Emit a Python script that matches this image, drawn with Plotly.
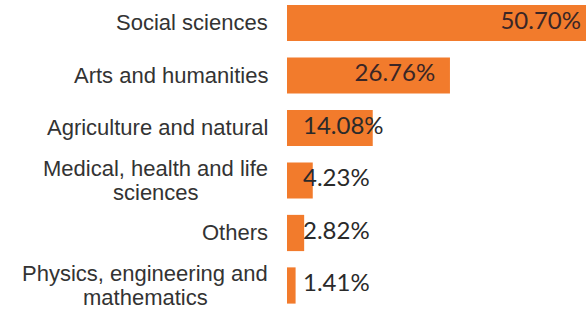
import plotly.graph_objects as go

categories = [
    "Social sciences",
    "Arts and humanities",
    "Agriculture and natural",
    "Medical, health and life<br>sciences",
    "Others",
    "Physics, engineering and<br>mathematics",
]
values = [50.70, 26.76, 14.08, 4.23, 2.82, 1.41]
value_labels = ["50.70%", "26.76%", "14.08%", "4.23%", "2.82%", "1.41%"]

pos = list(range(len(categories)))
big = [v > 20 for v in values]

fig = go.Figure()
fig.add_trace(go.Bar(
    x=values,
    y=pos,
    orientation="h",
    width=0.69,
    marker=dict(color="#F27B2C", line=dict(width=0)),
    hoverinfo="skip",
))

# labels inside the end of the long bars
fig.add_trace(go.Scatter(
    x=[v for v, b in zip(values, big) if b],
    y=[p for p, b in zip(pos, big) if b],
    text=[t for t, b in zip(value_labels, big) if b],
    mode="markers+text",
    textposition="middle left",
    marker=dict(size=22, color="rgba(0,0,0,0)"),
    textfont=dict(family="Lato", size=24, color="#3a2626"),
    hoverinfo="skip",
))

# labels near the base of the short bars
fig.add_trace(go.Scatter(
    x=[0 for b in big if not b],
    y=[p for p, b in zip(pos, big) if not b],
    text=[t for t, b in zip(value_labels, big) if not b],
    mode="markers+text",
    textposition="middle right",
    marker=dict(size=24, color="rgba(0,0,0,0)"),
    textfont=dict(family="Lato", size=24, color="#2a2a2a"),
    cliponaxis=False,
    hoverinfo="skip",
))

# Arial / Liberation Sans advance widths (1/1000 em) used to centre the
# second line of a two-line label under its first line
ARIAL_W = {
    "M": 833, "P": 667, "a": 556, "c": 500, "d": 556, "e": 556, "f": 278,
    "g": 556, "h": 556, "i": 222, "l": 222, "n": 556, "r": 333, "s": 500,
    "t": 278, "y": 500, ",": 278, " ": 278,
}
FONT_SIZE = 22
FONT = dict(family="Liberation Sans", size=FONT_SIZE, color="#333333")
HALF_GAP = 12
LABEL_SHIFT = -17


def text_width(s):
    return sum(ARIAL_W.get(ch, 556) for ch in s) / 1000 * FONT_SIZE


annotations = []
for i, c in enumerate(categories):
    lines = c.split("<br>")
    if len(lines) == 1:
        annotations.append(dict(
            x=0, y=i, xref="paper", yref="y", text=c, showarrow=False,
            xanchor="right", yanchor="middle", xshift=LABEL_SHIFT, font=FONT))
    else:
        first, second = lines
        annotations.append(dict(
            x=0, y=i, xref="paper", yref="y", text=first, showarrow=False,
            xanchor="right", yanchor="middle", xshift=LABEL_SHIFT,
            yshift=HALF_GAP, font=FONT))
        annotations.append(dict(
            x=0, y=i, xref="paper", yref="y", text=second, showarrow=False,
            xanchor="center", yanchor="middle",
            xshift=LABEL_SHIFT - 2 - text_width(first) / 2,
            yshift=-HALF_GAP, font=FONT))

fig.update_layout(
    width=600, height=310,
    margin=dict(l=287, r=0, t=0, b=0),
    paper_bgcolor="white", plot_bgcolor="white",
    showlegend=False,
    annotations=annotations,
    xaxis=dict(range=[0, 51.4], visible=False, fixedrange=True),
    yaxis=dict(range=[5.467, -0.438], showticklabels=False, showgrid=False,
               zeroline=False, ticks="", fixedrange=True),
)

fig.write_html(
    "out.html",
    config={"displayModeBar": False},
    post_script="document.body.style.margin='0';document.body.style.overflow='hidden';",
)
